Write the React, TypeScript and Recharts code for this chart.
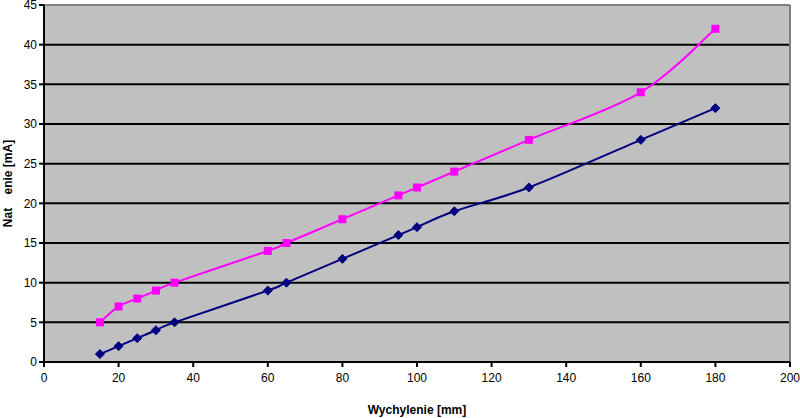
import React from 'react';
import { LineChart, Line, XAxis, YAxis, CartesianGrid, ReferenceLine } from 'recharts';

const deflection = [15, 20, 25, 30, 35, 60, 65, 80, 95, 100, 110, 130, 160, 180];
const seriesA = [1, 2, 3, 4, 5, 9, 10, 13, 16, 17, 19, 22, 28, 32];
const seriesB = [5, 7, 8, 9, 10, 14, 15, 18, 21, 22, 24, 28, 34, 42];
const xTicks = [0, 20, 40, 60, 80, 100, 120, 140, 160, 180, 200];
const yTicks = [0, 5, 10, 15, 20, 25, 30, 35, 40, 45];

const data = deflection.map((x, i) => ({ x, a: seriesA[i], b: seriesB[i] }));

// Catmull-Rom style smoothing similar to spreadsheet "smoothed line"
const smoothCurve = (context: any) => {
  let pts: number[][] = [];
  return {
    areaStart() {},
    areaEnd() {},
    lineStart() { pts = []; },
    point(x: number, y: number) { pts.push([+x, +y]); },
    lineEnd() {
      if (!pts.length) return;
      context.moveTo(pts[0][0], pts[0][1]);
      for (let i = 0; i < pts.length - 1; i++) {
        const p0 = pts[i - 1] || pts[i];
        const p1 = pts[i];
        const p2 = pts[i + 1];
        const p3 = pts[i + 2] || p2;
        const k = 1 / 6;
        context.bezierCurveTo(
          p1[0] + (p2[0] - p0[0]) * k, p1[1] + (p2[1] - p0[1]) * k,
          p2[0] - (p3[0] - p1[0]) * k, p2[1] - (p3[1] - p1[1]) * k,
          p2[0], p2[1]
        );
      }
    },
  };
};

const Diamond = (props: any) => {
  const { cx, cy } = props;
  if (cx == null || cy == null) return null;
  const r = 4.5;
  return <path d={`M${cx},${cy - r}L${cx + r},${cy}L${cx},${cy + r}L${cx - r},${cy}Z`} fill="#000080" stroke="#000080" />;
};

const Square = (props: any) => {
  const { cx, cy } = props;
  if (cx == null || cy == null) return null;
  const s = 4;
  return <rect x={cx - s} y={cy - s} width={2 * s} height={2 * s} fill="#FF00FF" stroke="none" />;
};

const font = { fontFamily: 'Liberation Sans, Arial, sans-serif', fontSize: 12, fill: '#000' };

export default function App() {
  return (
    <div style={{ position: 'absolute', left: 0, top: 0, width: 800, height: 418, background: '#fff' }}>
      <LineChart width={800} height={418} data={data} margin={{ top: 5, right: 10, left: 0, bottom: 0 }}>
        <CartesianGrid horizontal={true} vertical={false} stroke="#000" strokeWidth={2} fill="#C0C0C0" fillOpacity={1} />
        <XAxis
          type="number"
          dataKey="x"
          domain={[0, 200]}
          ticks={xTicks}
          interval={0}
          height={56}
          stroke="#000"
          strokeWidth={2}
          tickSize={5}
          tickMargin={6}
          tick={font}
          label={{ value: 'Wychylenie [mm]', position: 'insideBottom', offset: 4, style: { ...font, fontWeight: 'bold' } }}
        />
        <YAxis
          type="number"
          domain={[0, 45]}
          ticks={yTicks}
          interval={0}
          width={44}
          stroke="#000"
          strokeWidth={2}
          tickSize={5}
          tickMargin={2}
          tick={font}
          label={{ value: 'Nat\u00A0\u00A0\u00A0\u00A0enie [mA]', angle: -90, position: 'insideLeft', offset: 8, style: { ...font, fontWeight: 'bold', textAnchor: 'middle' } }}
        />
        <ReferenceLine y={45} stroke="#808080" strokeWidth={2} />
        <ReferenceLine x={200} stroke="#808080" strokeWidth={2} />
        <Line type={smoothCurve as any} dataKey="a" stroke="#000080" strokeWidth={2} dot={<Diamond />} activeDot={false} isAnimationActive={false} />
        <Line type={smoothCurve as any} dataKey="b" stroke="#FF00FF" strokeWidth={2} dot={<Square />} activeDot={false} isAnimationActive={false} />
      </LineChart>
    </div>
  );
}
